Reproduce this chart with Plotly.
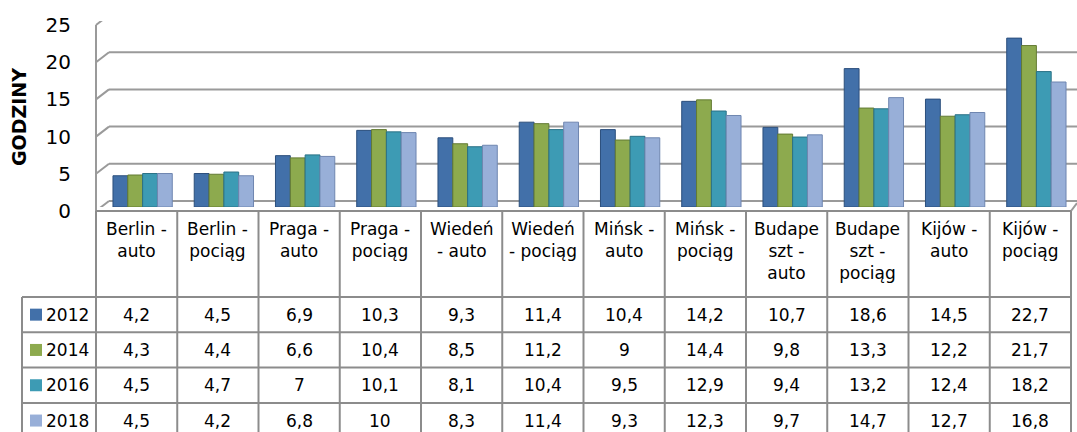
import plotly.graph_objects as go

# ---------------- data ----------------
categories = ["Berlin - auto", "Berlin - pociąg", "Praga - auto", "Praga - pociąg",
              "Wiedeń - auto", "Wiedeń - pociąg", "Mińsk - auto", "Mińsk - pociąg",
              "Budapeszt - auto", "Budapeszt - pociąg", "Kijów - auto", "Kijów - pociąg"]
category_labels = ["Berlin -<br>auto", "Berlin -<br>pociąg", "Praga -<br>auto", "Praga -<br>pociąg",
                   "Wiedeń<br>- auto", "Wiedeń<br>- pociąg", "Mińsk -<br>auto", "Mińsk -<br>pociąg",
                   "Budape<br>szt -<br>auto", "Budape<br>szt -<br>pociąg", "Kijów -<br>auto", "Kijów -<br>pociąg"]
years = ["2012", "2014", "2016", "2018"]
v2012 = [4.2, 4.5, 6.9, 10.3, 9.3, 11.4, 10.4, 14.2, 10.7, 18.6, 14.5, 22.7]
v2014 = [4.3, 4.4, 6.6, 10.4, 8.5, 11.2, 9, 14.4, 9.8, 13.3, 12.2, 21.7]
v2016 = [4.5, 4.7, 7, 10.1, 8.1, 10.4, 9.5, 12.9, 9.4, 13.2, 12.4, 18.2]
v2018 = [4.5, 4.2, 6.8, 10, 8.3, 11.4, 9.3, 12.3, 9.7, 14.7, 12.7, 16.8]
y_ticks = [0, 5, 10, 15, 20, 25]
axis_title = "GODZINY"

series = [v2012, v2014, v2016, v2018]
colors = ["#4270A9", "#8DAA4E", "#3D9BB4", "#98AFD8"]
edge_colors = ["#2C4F7C", "#637A33", "#2A7186", "#6F86B0"]

# ---------------- layout helpers (pixels) ----------------
W, H = 1077, 432
FONT = "DejaVu Sans"
GRID = "#9a9a9a"
TABLE = "#8c8c8c"
BAR_X0, BAR_X1 = 102, 1077        # bar area
Y_BASE, Y_TOP = 207, 21          # 0 and 25 on the bar scale
TX0, TX1 = 96, 1071              # table columns
COLW = (TX1 - TX0) / len(categories)
LEG_X0 = 22
T_TOP, HEAD_BOT = 211, 297
ROW_H = 35.3


def px(x):
    return x / W


def py(y):
    return 1 - y / H


def fmt(v):
    return f"{v:g}".replace(".", ",")


fig = go.Figure()
for name, vals, c, ec in zip(years, series, colors, edge_colors):
    fig.add_trace(go.Bar(x=categories, y=vals, name=name,
                         marker=dict(color=c, line=dict(color=ec, width=1))))

shapes = []
annotations = []

# back wall grid lines (3D look): front-left corner -> back wall -> right
for v in y_ticks:
    shapes.append(dict(type="line", xref="paper", yref="y", ysizemode="pixel", yanchor=v,
                       x0=px(TX0), x1=px(109), y0=-4, y1=6,
                       line=dict(color=GRID, width=2), layer="below"))
    shapes.append(dict(type="line", xref="paper", yref="y", ysizemode="pixel", yanchor=v,
                       x0=px(109), x1=px(W), y0=6, y1=6,
                       line=dict(color=GRID, width=2), layer="below"))
# left wall front edge
shapes.append(dict(type="line", xref="paper", yref="paper",
                   x0=px(TX0), x1=px(TX0), y0=py(25), y1=py(T_TOP),
                   line=dict(color=GRID, width=2)))
# floor right corner
shapes.append(dict(type="line", xref="paper", yref="paper",
                   x0=px(TX1), x1=px(W), y0=py(T_TOP), y1=py(203),
                   line=dict(color=GRID, width=2)))

# ---------------- data table ----------------
row_tops = [HEAD_BOT + i * ROW_H for i in range(len(years) + 1)]
shapes.append(dict(type="line", xref="paper", yref="paper", x0=px(TX0), x1=px(TX1),
                   y0=py(T_TOP), y1=py(T_TOP), line=dict(color=TABLE, width=2)))
for yt in row_tops:
    shapes.append(dict(type="line", xref="paper", yref="paper", x0=px(LEG_X0), x1=px(TX1),
                       y0=py(yt), y1=py(yt), line=dict(color=TABLE, width=2)))
for i in range(len(categories) + 1):
    xx = TX0 + i * COLW
    shapes.append(dict(type="line", xref="paper", yref="paper", x0=px(xx), x1=px(xx),
                       y0=py(T_TOP), y1=py(H + 10), line=dict(color=TABLE, width=2)))
shapes.append(dict(type="line", xref="paper", yref="paper", x0=px(LEG_X0), x1=px(LEG_X0),
                   y0=py(HEAD_BOT), y1=py(H + 10), line=dict(color=TABLE, width=2)))

for i, lab in enumerate(category_labels):
    annotations.append(dict(text=lab, xref="paper", yref="paper",
                            x=px(TX0 + (i + 0.5) * COLW), y=py(217),
                            xanchor="center", yanchor="top", align="center", showarrow=False,
                            font=dict(family=FONT, size=17, color="black")))

for r, (name, vals, c) in enumerate(zip(years, series, colors)):
    yc = row_tops[r] + ROW_H / 2
    shapes.append(dict(type="rect", xref="paper", yref="paper",
                       x0=px(30), x1=px(42), y0=py(yc - 6), y1=py(yc + 6),
                       fillcolor=c, line=dict(width=0)))
    annotations.append(dict(text=name, xref="paper", yref="paper", x=px(44), y=py(yc),
                            xanchor="left", yanchor="middle", showarrow=False,
                            font=dict(family=FONT, size=17, color="black")))
    for i, v in enumerate(vals):
        annotations.append(dict(text=fmt(v), xref="paper", yref="paper",
                                x=px(TX0 + (i + 0.5) * COLW), y=py(yc),
                                xanchor="center", yanchor="middle", showarrow=False,
                                font=dict(family=FONT, size=17, color="black")))

annotations.append(dict(text=f"<b>{axis_title}</b>", xref="paper", yref="paper",
                        x=px(19), y=py(117), textangle=-90, xanchor="center", yanchor="middle",
                        showarrow=False, font=dict(family=FONT, size=19, color="black")))

fig.update_layout(
    width=W, height=H,
    margin=dict(l=0, r=0, t=0, b=0, pad=0),
    paper_bgcolor="white", plot_bgcolor="rgba(0,0,0,0)",
    barmode="group", bargap=0.27, bargroupgap=0.0,
    showlegend=False,
    font=dict(family=FONT, color="black"),
    xaxis=dict(domain=[px(BAR_X0), px(BAR_X1)], showticklabels=False, showgrid=False,
               zeroline=False, showline=False, ticks="", automargin=False,
               range=[-0.5, len(categories) - 0.5]),
    yaxis=dict(domain=[py(Y_BASE), py(Y_TOP)], range=[0, 25], tickvals=y_ticks,
               showgrid=False, zeroline=False, showline=False, ticks="", automargin=False,
               ticklabelstandoff=30, ticklabelshift=4,
               tickfont=dict(family=FONT, size=20, color="black")),
    shapes=shapes, annotations=annotations,
)

fig.write_html("out.html", config={"displayModeBar": False},
               post_script="document.body.style.margin='0';document.body.style.overflow='hidden';")
